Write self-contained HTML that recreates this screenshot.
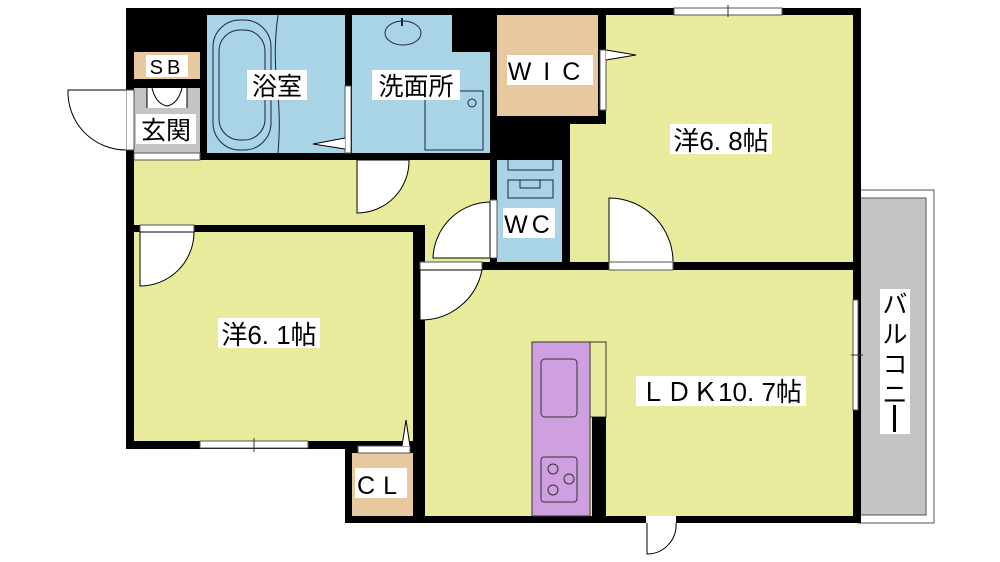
<!DOCTYPE html>
<html><head><meta charset="utf-8"><style>
html,body{margin:0;padding:0;background:#fff;width:1000px;height:562px;overflow:hidden}
svg{display:block}
text{font-family:"Liberation Sans","Noto Sans CJK JP",sans-serif;fill:#000}
</style></head><body>
<svg width="1000" height="562" viewBox="0 0 1000 562">
<!-- balcony -->
<rect x="858" y="190" width="76" height="333" fill="#fff" stroke="#555" stroke-width="1"/>
<rect x="858" y="198" width="68" height="317" fill="#c4c4c4" stroke="#555" stroke-width="1"/>
<!-- building black mass -->
<path d="M126 8 H861 V270 H861 V523 H345 V449 H126 Z" fill="#000"/>
<!-- rooms -->
<rect x="207" y="15" width="138" height="138" fill="#a8d4e6"/>
<rect x="352" y="15" width="100" height="38" fill="#a8d4e6"/>
<rect x="352" y="52" width="138" height="101" fill="#a8d4e6"/>
<rect x="497" y="15" width="101" height="101" fill="#e8c89f"/>
<path d="M606 15 H853 V262 H570 V124 H606 Z" fill="#e8eb9c"/>
<rect x="497" y="160" width="65" height="102" fill="#a8d4e6"/>
<path d="M134 160 H490 V262 H425 V225 H134 Z" fill="#e8eb9c"/>
<rect x="134" y="232" width="279" height="209" fill="#e8eb9c"/>
<rect x="425" y="270" width="428" height="246" fill="#e8eb9c"/>
<rect x="352" y="453" width="61" height="63" fill="#e8c89f"/>
<rect x="134" y="88" width="66" height="65" fill="#c4c4c4"/>
<rect x="134" y="52" width="66" height="27" fill="#e8c89f"/>
<!-- entrance door -->
<rect x="126" y="90" width="8" height="60" fill="#fff" stroke="#555" stroke-width="1"/>
<path d="M126 90 H68 A58 58 0 0 0 126 150" fill="#fff" stroke="#000" stroke-width="1"/>
<rect x="134" y="153" width="66" height="7" fill="#fff" stroke="#555" stroke-width="1"/>
<!-- shoe box doors -->
<rect x="147" y="88" width="40" height="20" fill="#fff"/>
<path d="M147 88 V108 M187 88 V108 M152 88 Q156 104 167 106 Q178 104 182 88" fill="none" stroke="#000" stroke-width="1"/>
<!-- bath tub -->
<rect x="213" y="20" width="58" height="130" rx="27" fill="none" stroke="#224" stroke-width="1"/>
<rect x="219" y="30" width="46" height="110" rx="21" fill="none" stroke="#224" stroke-width="1"/>
<path d="M278 15 Q273 50 277 85 Q281 120 278 153" fill="none" stroke="#224"/>
<rect x="345" y="86" width="6" height="67" fill="#fff" stroke="#555"/>
<path d="M345 138 L313 144 L345 149" fill="#fff" stroke="#000"/>
<!-- sink -->
<ellipse cx="403" cy="33" rx="18" ry="12" fill="none" stroke="#224"/>
<path d="M402 18 V26" stroke="#224" stroke-width="2"/>
<rect x="425" y="91" width="58" height="59" fill="none" stroke="#224"/>
<circle cx="472" cy="103" r="4" fill="none" stroke="#224"/>
<!-- hallway doors -->
<path d="M357 160 H409 A52 52 0 0 1 357 213 Z" fill="#fff" stroke="#000"/>
<rect x="490" y="200" width="7" height="58" fill="#fff" stroke="#555"/>
<path d="M490 202 A58 58 0 0 0 433 258 H490 Z" fill="#fff" stroke="#000"/>
<!-- WC -->
<path d="M508 160 V170 H553 V160 M508 180 H553 V198 H508 Z M520 180 V188 H540 V180" fill="none" stroke="#224"/>
<path d="M518 232 Q530 240 542 232" fill="none" stroke="#224"/>
<!-- WIC door -->
<rect x="600" y="50" width="6" height="60" fill="#fff" stroke="#555"/>
<path d="M606 50 L636 55 L606 60" fill="#fff" stroke="#000"/>
<!-- top window -->
<rect x="674" y="8" width="108" height="7" fill="#fff" stroke="#555"/>
<path d="M728 5 V17" stroke="#333"/>
<!-- 6.8 door -->
<path d="M609 198 A64 64 0 0 1 673 262 H609 Z" fill="#fff" stroke="#000"/>
<rect x="609" y="262" width="64" height="8" fill="#fff" stroke="#555"/>
<!-- 6.1 door -->
<rect x="140" y="225" width="54" height="7" fill="#fff" stroke="#555"/>
<path d="M140 232 H194 A54 54 0 0 1 140 286 Z" fill="#fff" stroke="#000"/>
<!-- LDK door -->
<rect x="420" y="262" width="62" height="8" fill="#fff" stroke="#555"/>
<path d="M420 270 H482 A62 62 0 0 1 420 320 Z" fill="#fff" stroke="#000"/>
<!-- 6.1 bottom window -->
<rect x="200" y="441" width="108" height="7" fill="#fff" stroke="#555"/>
<path d="M254 438 V452" stroke="#333"/>
<!-- CL door -->
<rect x="358" y="446" width="52" height="7" fill="#fff" stroke="#555"/>
<path d="M402 446 L406 420 L410 446" fill="#fff" stroke="#000"/>
<!-- balcony window -->
<rect x="853" y="300" width="5" height="110" fill="#fff" stroke="#555"/>
<path d="M851 355 H863" stroke="#333"/>
<!-- bottom door -->
<rect x="646" y="516" width="30" height="7" fill="#fff"/>
<path d="M647 523 V554 A29 29 0 0 0 676 523" fill="#fff" stroke="#000"/>
<!-- kitchen -->
<rect x="532" y="342" width="58" height="174" fill="#cfa0e0" stroke="#333"/>
<rect x="541" y="359" width="36" height="58" rx="4" fill="none" stroke="#333"/>
<rect x="541" y="457" width="36" height="45" rx="3" fill="none" stroke="#333"/>
<circle cx="553" cy="469" r="5" fill="none" stroke="#333"/>
<circle cx="569" cy="479" r="5" fill="none" stroke="#333"/>
<circle cx="553" cy="490" r="5" fill="none" stroke="#333"/>
<rect x="590" y="342" width="16" height="75" fill="#e8eb9c" stroke="#333"/>
<rect x="592" y="417" width="14" height="99" fill="#000"/>
<!-- labels -->
<rect x="146" y="55" width="42" height="22" fill="#fff"/>
<text x="167" y="74" font-size="20" text-anchor="middle" letter-spacing="4">SB</text>
<rect x="136" y="114" width="60" height="30" fill="#fff"/>
<text x="166" y="139" font-size="25" text-anchor="middle">玄関</text>
<rect x="247" y="70" width="60" height="30" fill="#fff"/>
<text x="277" y="95" font-size="25" text-anchor="middle">浴室</text>
<rect x="372" y="70" width="88" height="30" fill="#fff"/>
<text x="416" y="95" font-size="25" text-anchor="middle">洗面所</text>
<rect x="507" y="55" width="86" height="30" fill="#fff"/>
<text x="550" y="80" font-size="25" text-anchor="middle" letter-spacing="12">WIC</text>
<rect x="670" y="124" width="102" height="30" fill="#fff"/>
<text x="721" y="150" font-size="26" text-anchor="middle">洋6. 8帖</text>
<rect x="503" y="208" width="52" height="30" fill="#fff"/>
<text x="529" y="233" font-size="25" text-anchor="middle" letter-spacing="4">WC</text>
<rect x="218" y="318" width="102" height="30" fill="#fff"/>
<text x="269" y="344" font-size="26" text-anchor="middle">洋6. 1帖</text>
<rect x="636" y="376" width="170" height="30" fill="#fff"/>
<text x="721" y="401" font-size="26" text-anchor="middle">ＬＤＫ10. 7帖</text>
<rect x="355" y="468" width="52" height="30" fill="#fff"/>
<text x="381" y="494" font-size="25" text-anchor="middle" letter-spacing="8">CL</text>
<rect x="880" y="289" width="30" height="145" fill="#fff"/>
<text x="895" y="313" font-size="25" text-anchor="middle">バ</text>
<text x="895" y="343" font-size="25" text-anchor="middle">ル</text>
<text x="895" y="373" font-size="25" text-anchor="middle">コ</text>
<text x="895" y="403" font-size="25" text-anchor="middle">ニ</text>
<rect x="893" y="405" width="3" height="27" fill="#000"/>
</svg>
</body></html>
